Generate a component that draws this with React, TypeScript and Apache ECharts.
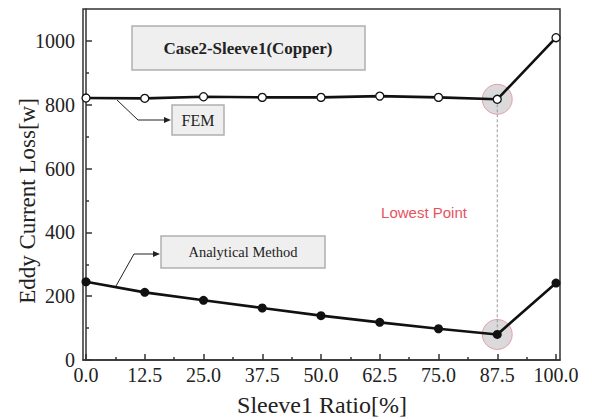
import React, { useEffect, useRef } from "react";
import * as echarts from "echarts";

const ratios = [0, 12.5, 25, 37.5, 50, 62.5, 75, 87.5, 100];
const femLoss = [821, 820, 825, 823, 823, 827, 823, 817, 1010];
const analyticalLoss = [245, 212, 187, 163, 139, 118, 98, 80, 241];
const xMajorTicks = [0, 12.5, 25, 37.5, 50, 62.5, 75, 87.5, 100];
const xMinorTicks = [6.25, 18.75, 31.25, 43.75, 56.25, 68.75, 81.25, 93.75];
const yMajorTicks = [0, 200, 400, 600, 800, 1000];
const yMinorTicks = [100, 300, 500, 700, 900];
const lowestIndex = 7;

const SERIF = '"Liberation Serif", "Times New Roman", serif';
const SANS = '"Liberation Sans", Arial, sans-serif';

export default function App() {
  const ref = useRef<HTMLDivElement>(null);
  useEffect(() => {
    if (!ref.current) return;
    const chart = echarts.init(ref.current, null, { renderer: "svg" });
    const fem = ratios.map((r, i) => [r, femLoss[i]]);
    const ana = ratios.map((r, i) => [r, analyticalLoss[i]]);
    const low = [
      [ratios[lowestIndex], femLoss[lowestIndex]],
      [ratios[lowestIndex], analyticalLoss[lowestIndex]],
    ];
    const axisLineStyle = { color: "#333", width: 1.5 };
    const xMin = -0.64;
    const xMax = 100.85;
    const tickRich = { t: { fontFamily: SERIF, fontSize: 20, color: "#222" } };
    chart.setOption({
      animation: false,
      backgroundColor: "#fff",
      textStyle: { fontFamily: SERIF },
      grid: {
        left: 83,
        right: 32,
        top: 9,
        bottom: 59,
        show: true,
        borderColor: "#333",
        borderWidth: 1.5,
        backgroundColor: "transparent",
      },
      xAxis: [
        {
          type: "value",
          min: xMin,
          max: xMax,
          position: "bottom",
          axisLine: { show: true, lineStyle: axisLineStyle },
          axisTick: { show: true, inside: true, length: 6, lineStyle: axisLineStyle, customValues: xMajorTicks },
          axisLabel: {
            show: true,
            customValues: xMajorTicks,
            formatter: (v: number) => `{t|${v.toFixed(1)}}`,
            rich: tickRich,
            fontFamily: SERIF,
            fontSize: 20,
            color: "#222",
            margin: 5,
          },
          splitLine: { show: false },
        },
        {
          type: "value",
          min: xMin,
          max: xMax,
          position: "bottom",
          axisLine: { show: false },
          axisTick: { show: true, inside: true, length: 3, lineStyle: axisLineStyle, customValues: xMinorTicks },
          axisLabel: { show: false },
          splitLine: { show: false },
        },
      ],
      yAxis: [
        {
          type: "value",
          min: 0,
          max: 1100,
          position: "left",
          axisLine: { show: true, lineStyle: axisLineStyle },
          axisTick: { show: true, inside: true, length: 6, lineStyle: axisLineStyle, customValues: yMajorTicks },
          axisLabel: {
            show: true,
            customValues: yMajorTicks,
            formatter: (v: number) => `{t|${v}}`,
            rich: tickRich,
            fontFamily: SERIF,
            fontSize: 20,
            color: "#222",
            margin: 8,
          },
          splitLine: { show: false },
        },
        {
          type: "value",
          min: 0,
          max: 1100,
          position: "left",
          axisLine: { show: false },
          axisTick: { show: true, inside: true, length: 3, lineStyle: axisLineStyle, customValues: yMinorTicks },
          axisLabel: { show: false },
          splitLine: { show: false },
        },
      ],
      series: [
        {
          type: "scatter",
          data: low,
          symbol: "circle",
          symbolSize: 30,
          itemStyle: { color: "rgba(200,200,204,0.85)", borderColor: "#e88a92", borderWidth: 1 },
          z: 1,
          silent: true,
        },
        {
          type: "line",
          data: low,
          showSymbol: false,
          lineStyle: { color: "#999", width: 1, type: [3, 2] },
          z: 2,
          silent: true,
        },
        {
          name: "FEM",
          type: "line",
          data: fem,
          symbol: "circle",
          symbolSize: 8,
          lineStyle: { color: "#111", width: 2.6 },
          itemStyle: { color: "#fff", borderColor: "#111", borderWidth: 1.3 },
          z: 3,
        },
        {
          name: "Analytical Method",
          type: "line",
          data: ana,
          symbol: "circle",
          symbolSize: 9,
          lineStyle: { color: "#111", width: 2.6 },
          itemStyle: { color: "#111" },
          z: 3,
        },
      ],
      graphic: [
        {
          type: "rect",
          shape: { x: 132, y: 26, width: 233, height: 44 },
          style: { fill: "#efefef", stroke: "#b0b0b0", lineWidth: 1.5 },
        },
        {
          type: "text",
          x: 248,
          y: 48,
          style: {
            text: "Case2-Sleeve1(Copper)",
            font: `bold 17px ${SERIF}`,
            fill: "#222",
            align: "center",
            verticalAlign: "middle",
          },
        },
        {
          type: "rect",
          shape: { x: 172, y: 105, width: 52, height: 30 },
          style: { fill: "#efefef", stroke: "#b0b0b0", lineWidth: 1.5 },
        },
        {
          type: "text",
          x: 198,
          y: 120,
          style: { text: "FEM", font: `16px ${SERIF}`, fill: "#222", align: "center", verticalAlign: "middle" },
        },
        {
          type: "polyline",
          shape: { points: [[117, 100], [138, 120], [166, 120]] },
          style: { stroke: "#222", lineWidth: 1, fill: "none" },
        },
        {
          type: "polygon",
          shape: { points: [[171, 120], [164, 117], [164, 123]] },
          style: { fill: "#222" },
        },
        {
          type: "rect",
          shape: { x: 161, y: 236, width: 164, height: 32 },
          style: { fill: "#efefef", stroke: "#b0b0b0", lineWidth: 1.5 },
        },
        {
          type: "text",
          x: 243,
          y: 252,
          style: {
            text: "Analytical Method",
            font: `14.5px ${SERIF}`,
            fill: "#222",
            align: "center",
            verticalAlign: "middle",
          },
        },
        {
          type: "polyline",
          shape: { points: [[116, 286], [134, 254], [155, 254]] },
          style: { stroke: "#222", lineWidth: 1, fill: "none" },
        },
        {
          type: "polygon",
          shape: { points: [[160, 254], [153, 251], [153, 257]] },
          style: { fill: "#222" },
        },
        {
          type: "text",
          x: 424,
          y: 212,
          style: {
            text: "Lowest Point",
            font: `15px ${SANS}`,
            fill: "#e5535f",
            align: "center",
            verticalAlign: "middle",
          },
        },
        {
          type: "text",
          x: 27,
          y: 201,
          rotation: Math.PI / 2,
          style: {
            text: "Eddy Current Loss[w]",
            font: `23px ${SERIF}`,
            fill: "#222",
            align: "center",
            verticalAlign: "middle",
          },
        },
        {
          type: "text",
          x: 322,
          y: 405,
          style: {
            text: "Sleeve1 Ratio[%]",
            font: `24px ${SERIF}`,
            fill: "#222",
            align: "center",
            verticalAlign: "middle",
          },
        },
      ],
    });
    return () => chart.dispose();
  }, []);
  return <div ref={ref} style={{ width: 592, height: 419, position: "absolute", left: 0, top: 0 }} />;
}
